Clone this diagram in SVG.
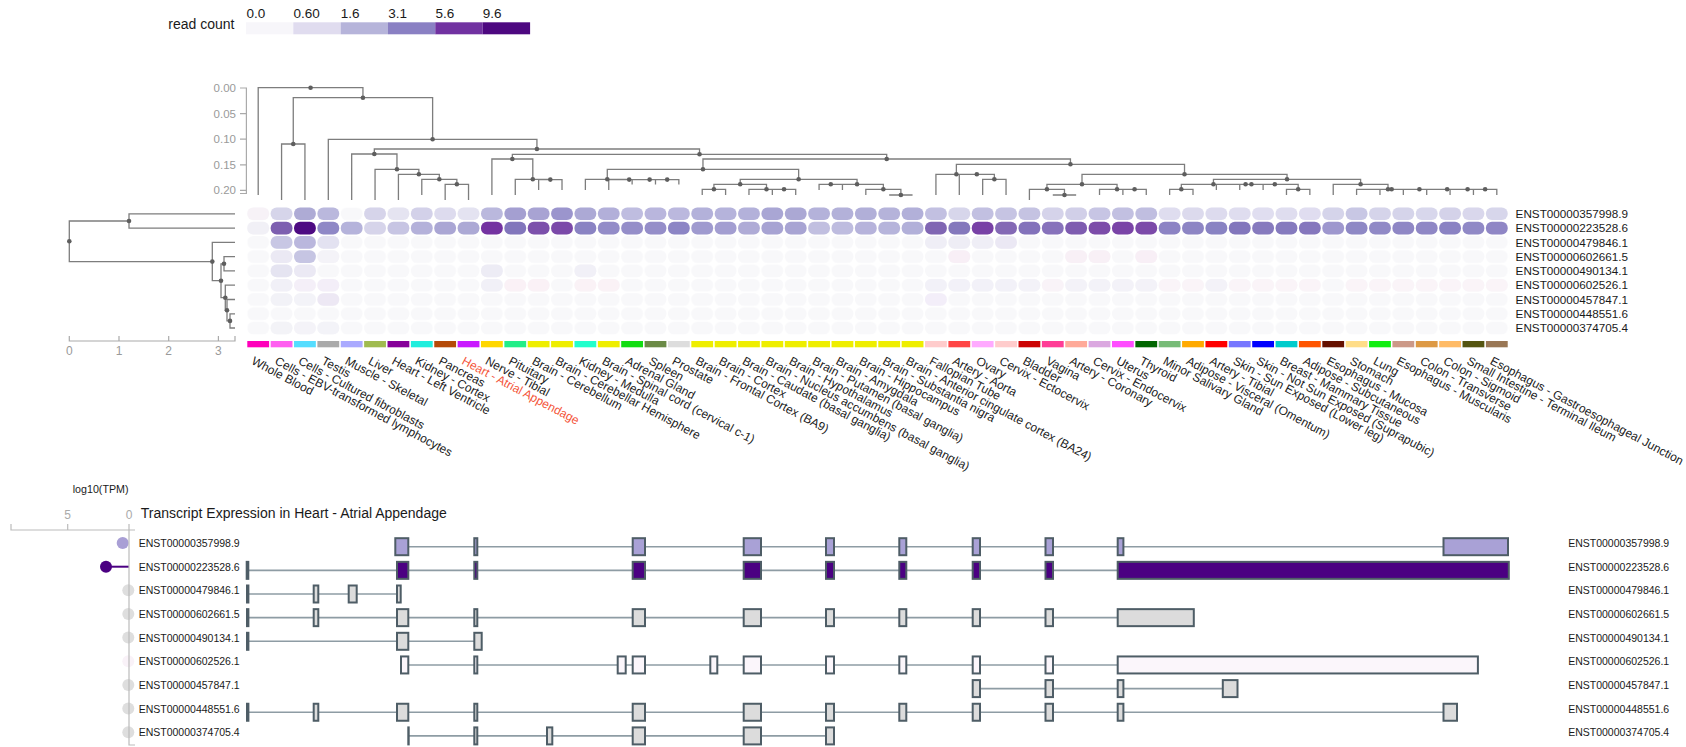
<svg xmlns="http://www.w3.org/2000/svg" xmlns:xlink="http://www.w3.org/1999/xlink" width="1686" height="747" viewBox="0 0 1686 747">
<style>
text{font-family:"Liberation Sans",Arial,Helvetica,sans-serif;fill:#1a1a1a}
.ax{fill:#9a9a9a;font-size:11.5px}
.ax2{fill:#9a9a9a;font-size:12px;text-anchor:middle}
.lg{font-size:13.5px}
.tl{font-size:12px}
.hl{font-size:11.7px}
.tr{font-size:10.5px}
.dl{fill:none;stroke:#7d7d7d;stroke-width:1.3}
.dot{fill:#5e5e5e}
.axl{fill:none;stroke:#aaa;stroke-width:1.2}
.intron{stroke:#8e9ca4;stroke-width:1.6}
.ex{stroke:#4e5d66;stroke-width:2}
.thin{fill:#4e5d66}
.gr{fill:#dcdcdc}
</style>
<defs>
<rect id="c" width="21.8" height="12.6" rx="6"/>
<rect id="b" width="21.8" height="6.3"/>
<pattern id="empty" patternUnits="userSpaceOnUse" x="247.3" y="207.5" width="23.37" height="14.28">
<rect width="21.8" height="12.6" rx="6" fill="#f8f8fa"/>
</pattern>
</defs>
<rect width="1686" height="747" fill="#fff"/>

<g id="legend">
<text x="234.5" y="29" text-anchor="end" style="font-size:14px">read count</text>
<rect x="246" y="22.3" width="47.4" height="12" fill="#f7f6fa"/>
<rect x="293.3" y="22.3" width="47.4" height="12" fill="#e0dcef"/>
<rect x="340.7" y="22.3" width="47.4" height="12" fill="#b6b4da"/>
<rect x="388" y="22.3" width="47.4" height="12" fill="#8a80c3"/>
<rect x="435.3" y="22.3" width="47.4" height="12" fill="#7132a1"/>
<rect x="482.7" y="22.3" width="47.4" height="12" fill="#4d0880"/>
<text class="lg" x="246.5" y="17.5">0.0</text>
<text class="lg" x="293.5" y="17.5">0.60</text>
<text class="lg" x="340.8" y="17.5">1.6</text>
<text class="lg" x="388.2" y="17.5">3.1</text>
<text class="lg" x="435.5" y="17.5">5.6</text>
<text class="lg" x="482.8" y="17.5">9.6</text>
</g>

<g id="tissue-dendrogram-axis">
<path class="axl" d="M240,88 H246.4 V193.5 H240 M240,113.6 H246.4 M240,139.2 H246.4 M240,164.8 H246.4 M240,190.4 H246.4"/>
<text class="ax" x="236" y="92" text-anchor="end">0.00</text>
<text class="ax" x="236" y="117.6" text-anchor="end">0.05</text>
<text class="ax" x="236" y="143.2" text-anchor="end">0.10</text>
<text class="ax" x="236" y="168.8" text-anchor="end">0.15</text>
<text class="ax" x="236" y="194.4" text-anchor="end">0.20</text>
</g>

<g id="connectors">
<g id="tissue-dendrogram">
<path class="dl" d="M258.2,195 V87.7 H362.94 V97.7
M293.26,144 V97.7 H432.62 V139.3
M281.57,200 V144 H304.94 V200
M328.31,200 V139.3 H536.93 V149
M374.32,154 V149 H699.53 V154.3
M351.68,200 V154 H396.96 V169.3
M375.05,200 V169.3 H418.87 V174.3
M398.42,200 V174.3 H439.32 V179.3
M421.79,195 V179.3 H456.85 V184.3
M445.16,200 V184.3 H468.53 V200
M512.35,159 V154.3 H886.71 V159
M491.9,195 V159 H532.8 V179.3
M515.27,195 V179.3 H550.33 V179.6
M538.64,190 V179.6 H562.01 V190
M702.97,169.3 V159 H1070.45 V164.3
M607.29,179.3 V169.3 H798.64 V179.3
M585.38,190 V179.3 H629.2 V179.6
M608.75,190 V179.6 H649.65
M632.12,184.5 V179.6 H667.18
M655.49,184.5 V179.6 H678.86 V184.5
M740.21,184.3 V179.3 H857.06 V184.3
M713.92,189.3 V184.3 H766.5 V189.3
M702.23,195 V189.3 H725.6 V195
M748.97,195 V189.3 H784.03
M772.34,195 V189.3 H795.71 V195
M830.77,184.3 H883.35 V189.3
M819.08,190 V184.3 H842.45 V190
M865.82,195 V189.3 H900.88 V195
M889.19,195 H912.56
M956.38,174.3 V164.3 H1184.52 V174.3
M935.93,195 V174.3 H976.83
M959.3,195 V174.3 H994.36 V179.3
M982.67,195 V179.3 H1006.04 V195
M1082,184.3 V174.3 H1287.04 V179.3
M1046.94,189.3 V184.3 H1117.05 V189.3
M1029.41,200 V189.3 H1064.47 V195
M1052.78,195 H1076.15
M1099.52,195 V189.3 H1134.58
M1122.89,195 V189.3 H1146.26 V195
M1213.46,184.3 V179.3 H1360.61 V184.3
M1181.32,189.3 V184.3 H1245.59
M1169.63,195 V189.3 H1193 V195
M1216.37,190 V184.3 H1274.8
M1251.43,184.3 H1298.17 V189.3
M1239.74,190 V184.3 H1263.11 V190
M1286.48,195 V189.3 H1309.85 V195
M1333.22,195 V184.3 H1388 V189.3
M1356.59,195 V189.3 H1419.4
M1391.65,189.3 H1447.15
M1379.96,195 V189.3 H1403.33 V195
M1426.7,195 V189.3 H1467.6
M1450.07,195 V189.3 H1485.13
M1473.44,195 V189.3 H1496.81 V195"/>
<g class="dot">
<circle cx="310.57" cy="87.7" r="2.3"/><circle cx="362.94" cy="97.7" r="2.3"/><circle cx="293.26" cy="144" r="2.3"/><circle cx="432.62" cy="139.3" r="2.3"/><circle cx="536.93" cy="149" r="2.3"/><circle cx="374.32" cy="154" r="2.3"/><circle cx="396.96" cy="169.3" r="2.3"/><circle cx="418.87" cy="174.3" r="2.3"/><circle cx="439.32" cy="179.3" r="2.3"/><circle cx="456.85" cy="184.3" r="2.3"/>
<circle cx="699.53" cy="154.3" r="2.3"/><circle cx="512.35" cy="159" r="2.3"/><circle cx="532.8" cy="179.3" r="2.3"/><circle cx="550.33" cy="179.6" r="2.3"/><circle cx="886.71" cy="159" r="2.3"/><circle cx="702.97" cy="169.3" r="2.3"/><circle cx="607.29" cy="179.3" r="2.3"/><circle cx="629.2" cy="179.6" r="2.3"/><circle cx="649.65" cy="179.6" r="2.3"/><circle cx="667.18" cy="179.6" r="2.3"/>
<circle cx="798.64" cy="179.3" r="2.3"/><circle cx="740.21" cy="184.3" r="2.3"/><circle cx="713.92" cy="189.3" r="2.3"/><circle cx="766.5" cy="189.3" r="2.3"/><circle cx="784.03" cy="189.3" r="2.3"/><circle cx="857.06" cy="184.3" r="2.3"/><circle cx="830.77" cy="184.3" r="2.3"/><circle cx="883.35" cy="189.3" r="2.3"/><circle cx="900.88" cy="195" r="2.3"/>
<circle cx="1070.45" cy="164.3" r="2.3"/><circle cx="956.38" cy="174.3" r="2.3"/><circle cx="976.83" cy="174.3" r="2.3"/><circle cx="994.36" cy="179.3" r="2.3"/><circle cx="1184.52" cy="174.3" r="2.3"/><circle cx="1082" cy="184.3" r="2.3"/><circle cx="1046.94" cy="189.3" r="2.3"/><circle cx="1064.47" cy="195" r="2.3"/><circle cx="1117.05" cy="189.3" r="2.3"/><circle cx="1134.58" cy="189.3" r="2.3"/>
<circle cx="1287.04" cy="179.3" r="2.3"/><circle cx="1213.46" cy="184.3" r="2.3"/><circle cx="1181.32" cy="189.3" r="2.3"/><circle cx="1245.59" cy="184.3" r="2.3"/><circle cx="1274.8" cy="184.3" r="2.3"/><circle cx="1251.43" cy="184.3" r="2.3"/><circle cx="1298.17" cy="189.3" r="2.3"/><circle cx="1360.61" cy="184.3" r="2.3"/><circle cx="1388" cy="189.3" r="2.3"/><circle cx="1419.4" cy="189.3" r="2.3"/><circle cx="1391.65" cy="189.3" r="2.3"/><circle cx="1447.15" cy="189.3" r="2.3"/><circle cx="1467.6" cy="189.3" r="2.3"/><circle cx="1485.13" cy="189.3" r="2.3"/>
</g>
</g>

<g id="transcript-dendrogram">
<path class="dl" d="M129,221 H69.3 V261.6 H212.3
M235,213.8 H129 V228.1 H235
M235,242.4 H212.3 V280.7 H221
M224,263.8 H221 V297.7 H225.3
M235,256.6 H224 V270.9 H235
M235,285.2 H225.3 V310.2 H227
M235,299.5 H227 V320.9 H230
M235,313.8 H230 V328 H235"/>
<g class="dot">
<circle cx="69.3" cy="241.3" r="2.3"/><circle cx="129" cy="221" r="2.3"/><circle cx="212.3" cy="261.6" r="2.3"/><circle cx="221" cy="280.7" r="2.3"/><circle cx="224" cy="263.8" r="2.3"/><circle cx="225.3" cy="297.7" r="2.3"/><circle cx="227" cy="310.2" r="2.3"/><circle cx="230" cy="320.9" r="2.3"/>
</g>
</g>
</g>

<g id="transcript-dendrogram-axis">
<path class="axl" d="M69.3,336 V341 H235 V336 M119,336 V341 M168.7,336 V341 M218.4,336 V341"/>
<text class="ax2" x="69.3" y="355">0</text>
<text class="ax2" x="119" y="355">1</text>
<text class="ax2" x="168.7" y="355">2</text>
<text class="ax2" x="218.4" y="355">3</text>
</g>

<g id="heatmap">
<rect x="247.3" y="207.5" width="1261.98" height="128.52" fill="url(#empty)"/>
<g id="row-ENST00000357998.9" transform="translate(0,207.5)">
<use href="#c" x="247.3" fill="#f7f2f7"/><use href="#c" x="270.67" fill="#d6d5ea"/><use href="#c" x="294.04" fill="#aeabd5"/><use href="#c" x="317.41" fill="#bab8dd"/><use href="#c" x="364.15" fill="#d6d4ea"/><use href="#c" x="387.52" fill="#e5e4f1"/><use href="#c" x="410.89" fill="#d3d1e9"/><use href="#c" x="434.26" fill="#dddbee"/><use href="#c" x="457.63" fill="#e4e3f1"/>
<use href="#c" x="481" fill="#bab8dd"/><use href="#c" x="504.37" fill="#a49fd1"/><use href="#c" x="527.74" fill="#a8a3d3"/><use href="#c" x="551.11" fill="#9b95cd"/><use href="#c" x="574.48" fill="#aca9d5"/><use href="#c" x="597.85" fill="#b2afd9"/><use href="#c" x="621.22" fill="#bfbde0"/><use href="#c" x="644.59" fill="#b9b6dd"/><use href="#c" x="667.96" fill="#bbb8de"/><use href="#c" x="691.33" fill="#b3b1da"/>
<use href="#c" x="714.7" fill="#b5b3db"/><use href="#c" x="738.07" fill="#b3b1da"/><use href="#c" x="761.44" fill="#a9a6d4"/><use href="#c" x="784.81" fill="#aba8d4"/><use href="#c" x="808.18" fill="#b4b2da"/><use href="#c" x="831.55" fill="#b3b1d9"/><use href="#c" x="854.92" fill="#b1afd8"/><use href="#c" x="878.29" fill="#b5b3da"/><use href="#c" x="901.66" fill="#b2b0d9"/><use href="#c" x="925.03" fill="#c2c0e1"/>
<use href="#c" x="948.4" fill="#d7d6eb"/><use href="#c" x="971.77" fill="#c2c0e1"/><use href="#c" x="995.14" fill="#c6c4e3"/><use href="#c" x="1018.51" fill="#c5c3e2"/><use href="#c" x="1041.88" fill="#d5d3ea"/><use href="#c" x="1065.25" fill="#d1cfe8"/><use href="#c" x="1088.62" fill="#c7c5e4"/><use href="#c" x="1111.99" fill="#c2c0e1"/><use href="#c" x="1135.36" fill="#c0bee0"/><use href="#c" x="1158.73" fill="#dfddef"/>
<use href="#c" x="1182.1" fill="#dcdaed"/><use href="#c" x="1205.47" fill="#dddbee"/><use href="#c" x="1228.84" fill="#dfddef"/><use href="#c" x="1252.21" fill="#e0def0"/><use href="#c" x="1275.58" fill="#dfddef"/><use href="#c" x="1298.95" fill="#e0ddf0"/><use href="#c" x="1322.32" fill="#d5d4ea"/><use href="#c" x="1345.69" fill="#c8c7e4"/><use href="#c" x="1369.06" fill="#d5d4ea"/><use href="#c" x="1392.43" fill="#d5d4ea"/>
<use href="#c" x="1415.8" fill="#d8d7ec"/><use href="#c" x="1439.17" fill="#d4d2e9"/><use href="#c" x="1462.54" fill="#d9d7ec"/><use href="#c" x="1485.91" fill="#d7d6eb"/>
</g>
<g id="row-ENST00000223528.6" transform="translate(0,221.8)">
<use href="#c" x="247.3" fill="#f1f0f6"/><use href="#c" x="270.67" fill="#7d5fb0"/><use href="#c" x="294.04" fill="#4d0a82"/><use href="#c" x="317.41" fill="#8f88c6"/><use href="#c" x="340.78" fill="#b5b3db"/><use href="#c" x="364.15" fill="#d6d4ea"/><use href="#c" x="387.52" fill="#c7c5e3"/><use href="#c" x="410.89" fill="#b4b1da"/><use href="#c" x="434.26" fill="#aaa6d4"/><use href="#c" x="457.63" fill="#aca9d5"/>
<use href="#c" x="481" fill="#7433a1"/><use href="#c" x="504.37" fill="#8276bc"/><use href="#c" x="527.74" fill="#7c50ab"/><use href="#c" x="551.11" fill="#7b49a9"/><use href="#c" x="574.48" fill="#8a83c3"/><use href="#c" x="597.85" fill="#938cc8"/><use href="#c" x="621.22" fill="#958ec9"/><use href="#c" x="644.59" fill="#958ec9"/><use href="#c" x="667.96" fill="#8c85c5"/><use href="#c" x="691.33" fill="#9f9acf"/>
<use href="#c" x="714.7" fill="#a39ed1"/><use href="#c" x="738.07" fill="#afabd6"/><use href="#c" x="761.44" fill="#a7a3d3"/><use href="#c" x="784.81" fill="#a8a4d3"/><use href="#c" x="808.18" fill="#c1bfe0"/><use href="#c" x="831.55" fill="#bebcdf"/><use href="#c" x="854.92" fill="#b6b3db"/><use href="#c" x="878.29" fill="#b6b4db"/><use href="#c" x="901.66" fill="#b2b0d9"/><use href="#c" x="925.03" fill="#8066b3"/>
<use href="#c" x="948.4" fill="#8478bc"/><use href="#c" x="971.77" fill="#7841a6"/><use href="#c" x="995.14" fill="#8469b5"/><use href="#c" x="1018.51" fill="#8372bb"/><use href="#c" x="1041.88" fill="#8772bb"/><use href="#c" x="1065.25" fill="#7e5cb0"/><use href="#c" x="1088.62" fill="#7c4ca9"/><use href="#c" x="1111.99" fill="#7a44a7"/><use href="#c" x="1135.36" fill="#7c4aa9"/><use href="#c" x="1158.73" fill="#8c83c4"/>
<use href="#c" x="1182.1" fill="#8d85c4"/><use href="#c" x="1205.47" fill="#8983c3"/><use href="#c" x="1228.84" fill="#8276bc"/><use href="#c" x="1252.21" fill="#867abe"/><use href="#c" x="1275.58" fill="#857abe"/><use href="#c" x="1298.95" fill="#8577bd"/><use href="#c" x="1322.32" fill="#9e97ce"/><use href="#c" x="1345.69" fill="#8e88c5"/><use href="#c" x="1369.06" fill="#9089c6"/><use href="#c" x="1392.43" fill="#8f87c5"/>
<use href="#c" x="1415.8" fill="#8f87c5"/><use href="#c" x="1439.17" fill="#8a82c3"/><use href="#c" x="1462.54" fill="#9089c6"/><use href="#c" x="1485.91" fill="#8f86c5"/>
</g>
<g id="row-ENST00000479846.1" transform="translate(0,236.1)">
<use href="#c" x="270.67" fill="#c8c7e4"/><use href="#c" x="294.04" fill="#bab7dd"/><use href="#c" x="317.41" fill="#e3e2f1"/><use href="#c" x="925.03" fill="#efeef6"/><use href="#c" x="948.4" fill="#eeedf5"/><use href="#c" x="971.77" fill="#efeef6"/><use href="#c" x="995.14" fill="#ebe8f4"/>
</g>
<g id="row-ENST00000602661.5" transform="translate(0,250.3)">
<use href="#c" x="270.67" fill="#ebe9f4"/><use href="#c" x="294.04" fill="#c6c5e3"/><use href="#c" x="317.41" fill="#f4f3f8"/><use href="#c" x="948.4" fill="#f8eff6"/><use href="#c" x="1065.25" fill="#f8f0f6"/><use href="#c" x="1088.62" fill="#f8f0f6"/><use href="#c" x="1135.36" fill="#f8eff6"/>
</g>
<g id="row-ENST00000490134.1" transform="translate(0,264.6)">
<use href="#c" x="270.67" fill="#e5e4f1"/><use href="#c" x="294.04" fill="#ebe9f4"/><use href="#c" x="481" fill="#edecf5"/><use href="#c" x="574.48" fill="#f1f0f7"/>
</g>
<g id="row-ENST00000602526.1" transform="translate(0,278.9)">
<use href="#c" x="270.67" fill="#f1f0f7"/><use href="#c" x="294.04" fill="#f4eff8"/><use href="#c" x="317.41" fill="#f3eef8"/><use href="#c" x="481" fill="#f1f0f7"/><use href="#c" x="504.37" fill="#faf1f6"/><use href="#c" x="527.74" fill="#faf1f6"/><use href="#c" x="574.48" fill="#faf2f6"/><use href="#c" x="597.85" fill="#faf2f6"/>
<use href="#c" x="925.03" fill="#f2f1f8"/><use href="#c" x="948.4" fill="#f2f1f8"/><use href="#c" x="971.77" fill="#f2f1f8"/><use href="#c" x="995.14" fill="#f2f1f8"/><use href="#c" x="1018.51" fill="#f3f2f8"/><use href="#c" x="1041.88" fill="#f9f3f8"/><use href="#c" x="1065.25" fill="#f3f2f8"/><use href="#c" x="1088.62" fill="#f3f2f8"/><use href="#c" x="1111.99" fill="#f3f2f8"/><use href="#c" x="1135.36" fill="#f3f2f8"/>
<use href="#c" x="1158.73" fill="#faf4f8"/><use href="#c" x="1182.1" fill="#faf4f8"/><use href="#c" x="1205.47" fill="#f3f2f8"/><use href="#c" x="1228.84" fill="#faf4f8"/><use href="#c" x="1252.21" fill="#faf4f8"/><use href="#c" x="1275.58" fill="#faf4f8"/><use href="#c" x="1298.95" fill="#faf4f8"/><use href="#c" x="1345.69" fill="#faf4f8"/><use href="#c" x="1369.06" fill="#faf4f8"/><use href="#c" x="1392.43" fill="#faf4f8"/><use href="#c" x="1415.8" fill="#faf4f8"/><use href="#c" x="1439.17" fill="#faf4f8"/><use href="#c" x="1462.54" fill="#faf4f8"/><use href="#c" x="1485.91" fill="#faf4f8"/>
</g>
<g id="row-ENST00000457847.1" transform="translate(0,293.2)">
<use href="#c" x="270.67" fill="#f2f2f7"/><use href="#c" x="294.04" fill="#f3f3f8"/><use href="#c" x="317.41" fill="#ede8f4"/><use href="#c" x="925.03" fill="#f3eef9"/>
</g>
<g id="row-ENST00000374705.4" transform="translate(0,321.7)">
<use href="#c" x="270.67" fill="#f3f3f7"/><use href="#c" x="294.04" fill="#f4f3f8"/><use href="#c" x="317.41" fill="#f3f3f8"/>
</g>
</g>

<g id="heatmap-row-labels" class="hl">
<text class="hl" x="1515.6" y="218">ENST00000357998.9</text>
<text class="hl" x="1515.6" y="232.3">ENST00000223528.6</text>
<text class="hl" x="1515.6" y="246.6">ENST00000479846.1</text>
<text class="hl" x="1515.6" y="260.8">ENST00000602661.5</text>
<text class="hl" x="1515.6" y="275.1">ENST00000490134.1</text>
<text class="hl" x="1515.6" y="289.4">ENST00000602526.1</text>
<text class="hl" x="1515.6" y="303.7">ENST00000457847.1</text>
<text class="hl" x="1515.6" y="318">ENST00000448551.6</text>
<text class="hl" x="1515.6" y="332.2">ENST00000374705.4</text>
</g>

<g id="tissue-colorbar" transform="translate(0,341)">
<use href="#b" x="247.3" fill="#ff00bb"/><use href="#b" x="270.67" fill="#ff5ef0"/><use href="#b" x="294.04" fill="#55ddff"/><use href="#b" x="317.41" fill="#aaaaaa"/><use href="#b" x="340.78" fill="#aaaaff"/><use href="#b" x="364.15" fill="#a0bb50"/><use href="#b" x="387.52" fill="#860099"/><use href="#b" x="410.89" fill="#20eedd"/><use href="#b" x="434.26" fill="#b54a08"/><use href="#b" x="457.63" fill="#c91aff"/>
<use href="#b" x="481" fill="#ffd700"/><use href="#b" x="504.37" fill="#22ee88"/><use href="#b" x="527.74" fill="#eeee00"/><use href="#b" x="551.11" fill="#eeee00"/><use href="#b" x="574.48" fill="#22ffcc"/><use href="#b" x="597.85" fill="#eeee00"/><use href="#b" x="621.22" fill="#11dd11"/><use href="#b" x="644.59" fill="#6b8a46"/><use href="#b" x="667.96" fill="#dddddd"/><use href="#b" x="691.33" fill="#eeee00"/>
<use href="#b" x="714.7" fill="#eeee00"/><use href="#b" x="738.07" fill="#eeee00"/><use href="#b" x="761.44" fill="#eeee00"/><use href="#b" x="784.81" fill="#eeee00"/><use href="#b" x="808.18" fill="#eeee00"/><use href="#b" x="831.55" fill="#eeee00"/><use href="#b" x="854.92" fill="#eeee00"/><use href="#b" x="878.29" fill="#eeee00"/><use href="#b" x="901.66" fill="#eeee00"/><use href="#b" x="925.03" fill="#ffcccc"/>
<use href="#b" x="948.4" fill="#ff4646"/><use href="#b" x="971.77" fill="#ffaaff"/><use href="#b" x="995.14" fill="#ffcccc"/><use href="#b" x="1018.51" fill="#cc0404"/><use href="#b" x="1041.88" fill="#ff3d96"/><use href="#b" x="1065.25" fill="#ffaa99"/><use href="#b" x="1088.62" fill="#dba8e0"/><use href="#b" x="1111.99" fill="#ff4dff"/><use href="#b" x="1135.36" fill="#006600"/><use href="#b" x="1158.73" fill="#77bb77"/>
<use href="#b" x="1182.1" fill="#ffaa00"/><use href="#b" x="1205.47" fill="#ff0000"/><use href="#b" x="1228.84" fill="#7777ff"/><use href="#b" x="1252.21" fill="#0000ff"/><use href="#b" x="1275.58" fill="#00cccc"/><use href="#b" x="1298.95" fill="#ff5500"/><use href="#b" x="1322.32" fill="#661100"/><use href="#b" x="1345.69" fill="#ffdd88"/><use href="#b" x="1369.06" fill="#11ee11"/><use href="#b" x="1392.43" fill="#cc9988"/>
<use href="#b" x="1415.8" fill="#dd9944"/><use href="#b" x="1439.17" fill="#ffbb66"/><use href="#b" x="1462.54" fill="#555511"/><use href="#b" x="1485.91" fill="#997755"/>
</g>

<g id="tissue-labels" class="tl">
<text class="tl" transform="translate(250.7,363.5) rotate(28)">Whole Blood</text>
<text class="tl" transform="translate(274.07,363.5) rotate(28)">Cells - EBV-transformed lymphocytes</text>
<text class="tl" transform="translate(297.44,363.5) rotate(28)">Cells - Cultured fibroblasts</text>
<text class="tl" transform="translate(320.81,363.5) rotate(28)">Testis</text>
<text class="tl" transform="translate(344.18,363.5) rotate(28)">Muscle - Skeletal</text>
<text class="tl" transform="translate(367.55,363.5) rotate(28)">Liver</text>
<text class="tl" transform="translate(390.92,363.5) rotate(28)">Heart - Left Ventricle</text>
<text class="tl" transform="translate(414.29,363.5) rotate(28)">Kidney - Cortex</text>
<text class="tl" transform="translate(437.66,363.5) rotate(28)">Pancreas</text>
<text class="tl" transform="translate(461.03,363.5) rotate(28)" style="fill:#f4553a">Heart - Atrial Appendage</text>
<text class="tl" transform="translate(484.4,363.5) rotate(28)">Nerve - Tibial</text>
<text class="tl" transform="translate(507.77,363.5) rotate(28)">Pituitary</text>
<text class="tl" transform="translate(531.14,363.5) rotate(28)">Brain - Cerebellum</text>
<text class="tl" transform="translate(554.51,363.5) rotate(28)">Brain - Cerebellar Hemisphere</text>
<text class="tl" transform="translate(577.88,363.5) rotate(28)">Kidney - Medulla</text>
<text class="tl" transform="translate(601.25,363.5) rotate(28)">Brain - Spinal cord (cervical c-1)</text>
<text class="tl" transform="translate(624.62,363.5) rotate(28)">Adrenal Gland</text>
<text class="tl" transform="translate(647.99,363.5) rotate(28)">Spleen</text>
<text class="tl" transform="translate(671.36,363.5) rotate(28)">Prostate</text>
<text class="tl" transform="translate(694.73,363.5) rotate(28)">Brain - Frontal Cortex (BA9)</text>
<text class="tl" transform="translate(718.1,363.5) rotate(28)">Brain - Cortex</text>
<text class="tl" transform="translate(741.47,363.5) rotate(28)">Brain - Caudate (basal ganglia)</text>
<text class="tl" transform="translate(764.84,363.5) rotate(28)">Brain - Nucleus accumbens (basal ganglia)</text>
<text class="tl" transform="translate(788.21,363.5) rotate(28)">Brain - Hypothalamus</text>
<text class="tl" transform="translate(811.58,363.5) rotate(28)">Brain - Putamen (basal ganglia)</text>
<text class="tl" transform="translate(834.95,363.5) rotate(28)">Brain - Amygdala</text>
<text class="tl" transform="translate(858.32,363.5) rotate(28)">Brain - Hippocampus</text>
<text class="tl" transform="translate(881.69,363.5) rotate(28)">Brain - Substantia nigra</text>
<text class="tl" transform="translate(905.06,363.5) rotate(28)">Brain - Anterior cingulate cortex (BA24)</text>
<text class="tl" transform="translate(928.43,363.5) rotate(28)">Fallopian Tube</text>
<text class="tl" transform="translate(951.8,363.5) rotate(28)">Artery - Aorta</text>
<text class="tl" transform="translate(975.17,363.5) rotate(28)">Ovary</text>
<text class="tl" transform="translate(998.54,363.5) rotate(28)">Cervix - Ectocervix</text>
<text class="tl" transform="translate(1021.91,363.5) rotate(28)">Bladder</text>
<text class="tl" transform="translate(1045.28,363.5) rotate(28)">Vagina</text>
<text class="tl" transform="translate(1068.65,363.5) rotate(28)">Artery - Coronary</text>
<text class="tl" transform="translate(1092.02,363.5) rotate(28)">Cervix - Endocervix</text>
<text class="tl" transform="translate(1115.39,363.5) rotate(28)">Uterus</text>
<text class="tl" transform="translate(1138.76,363.5) rotate(28)">Thyroid</text>
<text class="tl" transform="translate(1162.13,363.5) rotate(28)">Minor Salivary Gland</text>
<text class="tl" transform="translate(1185.5,363.5) rotate(28)">Adipose - Visceral (Omentum)</text>
<text class="tl" transform="translate(1208.87,363.5) rotate(28)">Artery - Tibial</text>
<text class="tl" transform="translate(1232.24,363.5) rotate(28)">Skin - Sun Exposed (Lower leg)</text>
<text class="tl" transform="translate(1255.61,363.5) rotate(28)">Skin - Not Sun Exposed (Suprapubic)</text>
<text class="tl" transform="translate(1278.98,363.5) rotate(28)">Breast - Mammary Tissue</text>
<text class="tl" transform="translate(1302.35,363.5) rotate(28)">Adipose - Subcutaneous</text>
<text class="tl" transform="translate(1325.72,363.5) rotate(28)">Esophagus - Mucosa</text>
<text class="tl" transform="translate(1349.09,363.5) rotate(28)">Stomach</text>
<text class="tl" transform="translate(1372.46,363.5) rotate(28)">Lung</text>
<text class="tl" transform="translate(1395.83,363.5) rotate(28)">Esophagus - Muscularis</text>
<text class="tl" transform="translate(1419.2,363.5) rotate(28)">Colon - Transverse</text>
<text class="tl" transform="translate(1442.57,363.5) rotate(28)">Colon - Sigmoid</text>
<text class="tl" transform="translate(1465.94,363.5) rotate(28)">Small Intestine - Terminal Ileum</text>
<text class="tl" transform="translate(1489.31,363.5) rotate(28)">Esophagus - Gastroesophageal Junction</text>
</g>

<g id="transcript-panel">
<text x="72.7" y="493" style="font-size:10.7px">log10(TPM)</text>
<text class="ax2" x="67.7" y="519.3" style="fill:#aaa">5</text>
<text class="ax2" x="129" y="519.3" style="fill:#aaa">0</text>
<text x="140.7" y="517.7" style="font-size:14px">Transcript Expression in Heart - Atrial Appendage</text>

<g id="lollipops">
<line x1="106" y1="566.7" x2="129" y2="566.7" stroke="#4b0082" stroke-width="2"/>
<circle cx="122.7" cy="543" r="6" fill="#a99fd5"/>
<circle cx="106" cy="566.7" r="6" fill="#4b0082"/>
<circle cx="128.3" cy="590.3" r="6" fill="#dedede"/>
<circle cx="128.3" cy="614" r="6" fill="#dedede"/>
<circle cx="128.3" cy="637.6" r="6" fill="#dedede"/>
<circle cx="128.3" cy="661.3" r="6" fill="#f9f2f8"/>
<circle cx="128.3" cy="684.9" r="6" fill="#dedede"/>
<circle cx="128.3" cy="708.6" r="6" fill="#dedede"/>
<circle cx="128.3" cy="732.2" r="6" fill="#dedede"/>
</g>
<path class="axl" d="M11,524 V530 H135 M67.7,524 V530 M129,524 V745 H135" style="stroke:#bbb"/>

<g id="tx-ENST00000357998.9" transform="translate(0,546.7)">
<text class="tr" x="138.7" y="0.4">ENST00000357998.9</text>
<text class="tr" x="1568.2" y="0.4">ENST00000357998.9</text>
<line class="intron" x1="395" y1="0" x2="1444" y2="0"/>
<g class="ex" fill="#a9a1d6">
<rect x="395.3" y="-8.5" width="13" height="17"/><rect x="474.3" y="-8.5" width="3" height="17"/><rect x="632.7" y="-8.5" width="12.3" height="17"/><rect x="743.7" y="-8.5" width="17.3" height="17"/><rect x="826" y="-8.5" width="8" height="17"/><rect x="899.3" y="-8.5" width="7" height="17"/><rect x="972.7" y="-8.5" width="7.3" height="17"/><rect x="1045.5" y="-8.5" width="7.5" height="17"/><rect x="1117.7" y="-8.5" width="5.7" height="17"/><rect x="1443.5" y="-8.5" width="64.5" height="17"/>
</g>
</g>

<g id="tx-ENST00000223528.6" transform="translate(0,570.35)">
<text class="tr" x="138.7" y="0.4">ENST00000223528.6</text>
<text class="tr" x="1568.2" y="0.4">ENST00000223528.6</text>
<line class="intron" x1="249" y1="0" x2="1118" y2="0"/>
<rect class="thin" x="245.7" y="-9.5" width="3.6" height="19"/>
<g class="ex" fill="#4b0082">
<rect x="397" y="-8.5" width="11.3" height="17"/><rect x="474.3" y="-8.5" width="3" height="17"/><rect x="632.7" y="-8.5" width="12.3" height="17"/><rect x="743.7" y="-8.5" width="17.3" height="17"/><rect x="826" y="-8.5" width="8" height="17"/><rect x="899.3" y="-8.5" width="7" height="17"/><rect x="972.7" y="-8.5" width="7.3" height="17"/><rect x="1045.5" y="-8.5" width="7.5" height="17"/><rect x="1117.7" y="-8.5" width="391.1" height="17"/>
</g>
</g>

<g id="tx-ENST00000479846.1" transform="translate(0,594)">
<text class="tr" x="138.7" y="0.4">ENST00000479846.1</text>
<text class="tr" x="1568.2" y="0.4">ENST00000479846.1</text>
<line class="intron" x1="249" y1="0" x2="398" y2="0"/>
<rect class="thin" x="246" y="-9.5" width="3.4" height="19"/>
<g class="ex gr">
<rect x="313.7" y="-8.5" width="4.6" height="17"/><rect x="348.7" y="-8.5" width="8" height="17"/><rect x="397" y="-8.5" width="3.7" height="17"/>
</g>
</g>

<g id="tx-ENST00000602661.5" transform="translate(0,617.65)">
<text class="tr" x="138.7" y="0.4">ENST00000602661.5</text>
<text class="tr" x="1568.2" y="0.4">ENST00000602661.5</text>
<line class="intron" x1="249" y1="0" x2="1118" y2="0"/>
<rect class="thin" x="246" y="-9.5" width="3.4" height="19"/>
<g class="ex gr">
<rect x="313.7" y="-8.5" width="4.6" height="17"/><rect x="397" y="-8.5" width="11.3" height="17"/><rect x="474.3" y="-8.5" width="3" height="17"/><rect x="632.7" y="-8.5" width="12.3" height="17"/><rect x="743.7" y="-8.5" width="17.3" height="17"/><rect x="826" y="-8.5" width="8" height="17"/><rect x="899.3" y="-8.5" width="7" height="17"/><rect x="972.7" y="-8.5" width="7.3" height="17"/><rect x="1045.5" y="-8.5" width="7.5" height="17"/><rect x="1117.7" y="-8.5" width="76.1" height="17"/>
</g>
</g>

<g id="tx-ENST00000490134.1" transform="translate(0,641.3)">
<text class="tr" x="138.7" y="0.4">ENST00000490134.1</text>
<text class="tr" x="1568.2" y="0.4">ENST00000490134.1</text>
<line class="intron" x1="249" y1="0" x2="475" y2="0"/>
<rect class="thin" x="246" y="-9.5" width="3.4" height="19"/>
<g class="ex gr">
<rect x="397" y="-8.5" width="11.3" height="17"/><rect x="474.3" y="-8.5" width="7.4" height="17"/>
</g>
</g>

<g id="tx-ENST00000602526.1" transform="translate(0,664.95)">
<text class="tr" x="138.7" y="0.4">ENST00000602526.1</text>
<text class="tr" x="1568.2" y="0.4">ENST00000602526.1</text>
<line class="intron" x1="401" y1="0" x2="1118" y2="0"/>
<g class="ex" fill="#fbf6fb">
<rect x="401" y="-8.5" width="7.3" height="17"/><rect x="474.3" y="-8.5" width="3" height="17"/><rect x="617.7" y="-8.5" width="8" height="17"/><rect x="632.7" y="-8.5" width="12.3" height="17"/><rect x="710.3" y="-8.5" width="7" height="17"/><rect x="743.7" y="-8.5" width="17.3" height="17"/><rect x="826" y="-8.5" width="8" height="17"/><rect x="899.3" y="-8.5" width="7" height="17"/><rect x="972.7" y="-8.5" width="7.3" height="17"/><rect x="1045.5" y="-8.5" width="7.5" height="17"/><rect x="1117.7" y="-8.5" width="360.2" height="17"/>
</g>
</g>

<g id="tx-ENST00000457847.1" transform="translate(0,688.6)">
<text class="tr" x="138.7" y="0.4">ENST00000457847.1</text>
<text class="tr" x="1568.2" y="0.4">ENST00000457847.1</text>
<line class="intron" x1="973" y1="0" x2="1223" y2="0"/>
<g class="ex gr">
<rect x="972.7" y="-8.5" width="7.3" height="17"/><rect x="1045.5" y="-8.5" width="7.5" height="17"/><rect x="1117.7" y="-8.5" width="5.7" height="17"/><rect x="1222.8" y="-8.5" width="14.7" height="17"/>
</g>
</g>

<g id="tx-ENST00000448551.6" transform="translate(0,712.25)">
<text class="tr" x="138.7" y="0.4">ENST00000448551.6</text>
<text class="tr" x="1568.2" y="0.4">ENST00000448551.6</text>
<line class="intron" x1="249" y1="0" x2="1444" y2="0"/>
<rect class="thin" x="246" y="-9.5" width="3.4" height="19"/>
<g class="ex gr">
<rect x="313.7" y="-8.5" width="4.6" height="17"/><rect x="397" y="-8.5" width="11.3" height="17"/><rect x="474.3" y="-8.5" width="3" height="17"/><rect x="632.7" y="-8.5" width="12.3" height="17"/><rect x="743.7" y="-8.5" width="17.3" height="17"/><rect x="826" y="-8.5" width="8" height="17"/><rect x="899.3" y="-8.5" width="7" height="17"/><rect x="972.7" y="-8.5" width="7.3" height="17"/><rect x="1045.5" y="-8.5" width="7.5" height="17"/><rect x="1117.7" y="-8.5" width="5.7" height="17"/><rect x="1443.5" y="-8.5" width="13.5" height="17"/>
</g>
</g>

<g id="tx-ENST00000374705.4" transform="translate(0,735.9)">
<text class="tr" x="138.7" y="0.4">ENST00000374705.4</text>
<text class="tr" x="1568.2" y="0.4">ENST00000374705.4</text>
<line class="intron" x1="409" y1="0" x2="827" y2="0"/>
<rect class="thin" x="407.3" y="-9.5" width="2.4" height="19"/>
<g class="ex gr">
<rect x="474.3" y="-8.5" width="3" height="17"/><rect x="547" y="-8.5" width="5.3" height="17"/><rect x="632.7" y="-8.5" width="12.3" height="17"/><rect x="743.7" y="-8.5" width="17.3" height="17"/><rect x="826" y="-8.5" width="8" height="17"/>
</g>
</g>
</g>
</svg>
